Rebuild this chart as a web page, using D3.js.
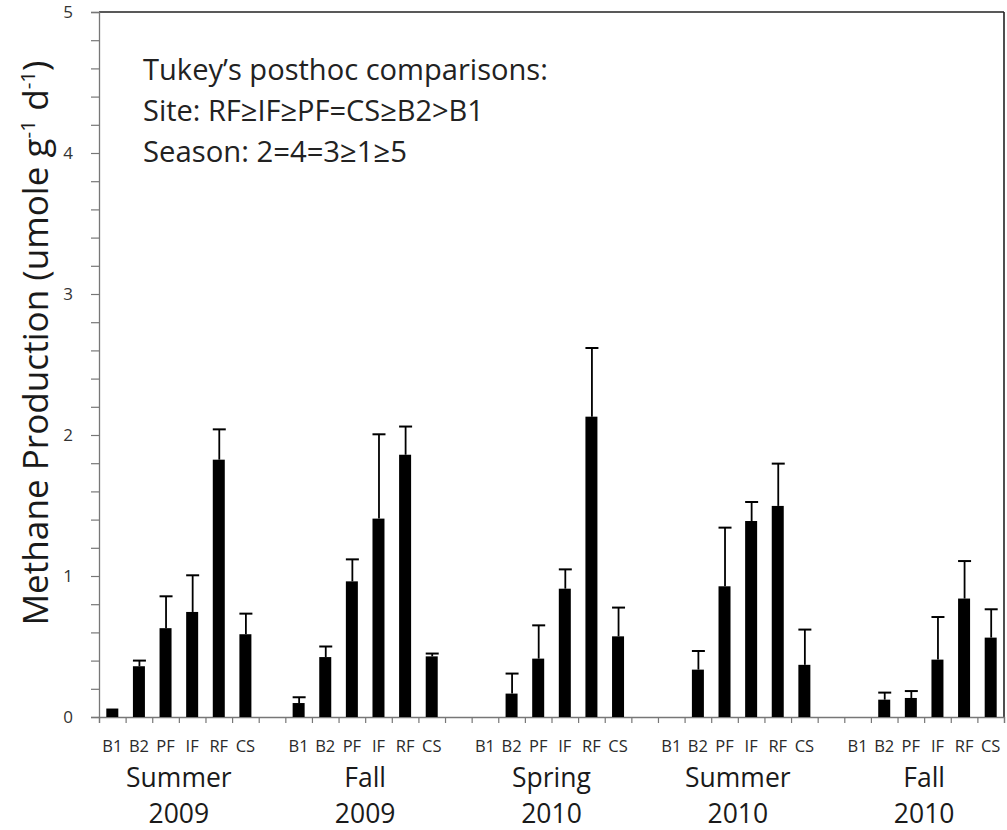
<!DOCTYPE html>
<html>
<head>
<meta charset="utf-8">
<script src="https://cdn.jsdelivr.net/npm/d3@7"></script>
<style>
  html, body { margin: 0; padding: 0; background: #fff; }
  svg { display: block; }
  text { font-family: "Open Sans", "Noto Sans", sans-serif; fill: #222; }
</style>
</head>
<body>
<svg id="chart" width="1007" height="830"></svg>
<script>
// ---------------- data ----------------
const sites = ["B1", "B2", "PF", "IF", "RF", "CS"];
const seasonNames = ["Summer", "Fall", "Spring", "Summer", "Fall"];
const seasonYears = ["2009", "2009", "2010", "2010", "2010"];

// mean methane production (umole g-1 d-1), per site B1..CS (null = no bar)
const summer2009 = [0.06, 0.36, 0.63, 0.745, 1.825, 0.587];
const fall2009   = [0.099, 0.425, 0.962, 1.407, 1.86, 0.43];
const spring2010 = [null, 0.166, 0.414, 0.91, 2.13, 0.572];
const summer2010 = [null, 0.336, 0.927, 1.39, 1.497, 0.37];
const fall2010   = [null, 0.123, 0.135, 0.407, 0.84, 0.563];

// top of the error bar (mean + error)
const summer2009Upper = [0.06, 0.40, 0.856, 1.005, 2.04, 0.733];
const fall2009Upper   = [0.14, 0.50, 1.118, 2.005, 2.06, 0.45];
const spring2010Upper = [null, 0.308, 0.65, 1.047, 2.617, 0.776];
const summer2010Upper = [null, 0.468, 1.343, 1.525, 1.797, 0.62];
const fall2010Upper   = [null, 0.173, 0.184, 0.709, 1.106, 0.764];

const yTicks = [0, 0.2, 0.4, 0.6, 0.8, 1, 1.2, 1.4, 1.6, 1.8, 2, 2.2, 2.4, 2.6, 2.8, 3, 3.2, 3.4, 3.6, 3.8, 4, 4.2, 4.4, 4.6, 4.8, 5];
const yLabelTicks = [0, 1, 2, 3, 4, 5];

const annotation = [
  "Tukey\u2019s posthoc comparisons:",
  "Site: RF\u2265IF\u2265PF=CS\u2265B2>B1",
  "Season: 2=4=3\u22651\u22655"
];

const means = [summer2009, fall2009, spring2010, summer2010, fall2010];
const uppers = [summer2009Upper, fall2009Upper, spring2010Upper, summer2010Upper, fall2010Upper];

// ---------------- layout ----------------
const svg = d3.select("#chart");
const mLeft = 99, mRight = 1004, mTop = 12, mBottom = 717;

// slots: each season has 6 sites, seasons separated by an empty slot
const slots = [];
const records = [];
seasonNames.forEach((s, gi) => {
  sites.forEach((site, si) => {
    const id = "g" + gi + "_" + site;
    slots.push(id);
    records.push({ id, gi, site, value: means[gi][si], upper: uppers[gi][si] });
  });
  if (gi < seasonNames.length - 1) slots.push("gap" + gi);
});

const x = d3.scaleBand().domain(slots).range([mLeft, mRight]).paddingInner(0).paddingOuter(0);
const xIdx = d3.scaleLinear().domain([0, slots.length]).range([mLeft, mRight]);
const y = d3.scaleLinear().domain([0, 5]).range([mBottom, mTop]);

const barW = 12;

// ---------------- frame (top and right) ----------------
svg.append("line").attr("x1", mLeft).attr("x2", mRight).attr("y1", mTop).attr("y2", mTop)
  .attr("stroke", "#222").attr("stroke-width", 1.6);
svg.append("line").attr("x1", mRight).attr("x2", mRight).attr("y1", mTop).attr("y2", mBottom)
  .attr("stroke", "#222").attr("stroke-width", 1.6);

// ---------------- y axis ----------------
const yAxis = d3.axisLeft(y).tickValues(yTicks).tickSize(8).tickFormat("");
const gy = svg.append("g").attr("transform", `translate(${mLeft},0)`).call(yAxis);
gy.select(".domain").attr("stroke", "#777").attr("stroke-width", 1.3);
gy.selectAll(".tick line").attr("stroke", "#777").attr("stroke-width", 1.2);

const yLab = d3.axisLeft(y).tickValues(yLabelTicks).tickSize(0).tickPadding(26).tickFormat(d3.format("d"));
const gy2 = svg.append("g").attr("transform", `translate(${mLeft},0)`).call(yLab);
gy2.select(".domain").remove();
gy2.attr("font-size", null).attr("font-family", null);
gy2.selectAll(".tick text").style("font-family", "'Open Sans', sans-serif")
  .style("font-size", "17px").style("fill", "#333");

// ---------------- x axis ----------------
const xAxis = d3.axisBottom(xIdx).tickValues(d3.range(0, slots.length + 1)).tickSize(6).tickFormat("");
const gx = svg.append("g").attr("transform", `translate(0,${mBottom})`).call(xAxis);
gx.select(".domain").attr("stroke", "#777").attr("stroke-width", 1.3);
gx.selectAll(".tick line").attr("stroke", "#777").attr("stroke-width", 1.2);

// category labels
const xCat = d3.axisBottom(x).tickValues(records.map(r => r.id)).tickSize(0).tickPadding(0)
  .tickFormat(id => id.split("_")[1]);
const gx2 = svg.append("g").attr("transform", `translate(0,${mBottom})`).call(xCat);
gx2.select(".domain").remove();
gx2.attr("font-size", null).attr("font-family", null);
gx2.selectAll(".tick text").attr("dy", null).attr("y", 35)
  .style("font-family", "'Open Sans', sans-serif").style("font-size", "16.5px").style("fill", "#2a2a2a");

// season / year labels
seasonNames.forEach((s, gi) => {
  const first = x("g" + gi + "_B1"), last = x("g" + gi + "_CS") + x.bandwidth();
  const cx = (first + last) / 2;
  svg.append("text").attr("x", cx).attr("y", 787).attr("text-anchor", "middle")
    .style("font-size", "26.5px").style("fill", "#1a1a1a").text(s);
  svg.append("text").attr("x", cx).attr("y", 823).attr("text-anchor", "middle")
    .style("font-size", "26.5px").style("fill", "#1a1a1a").text(seasonYears[gi]);
});

// ---------------- bars ----------------
const drawn = records.filter(r => r.value !== null);
svg.append("g").selectAll("rect").data(drawn).join("rect")
  .attr("x", d => x(d.id) + x.bandwidth() / 2 - barW / 2)
  .attr("width", barW)
  .attr("y", d => y(d.value))
  .attr("height", d => y(0) - y(d.value))
  .attr("fill", "#000");

// error bars (upper only)
const eb = svg.append("g").selectAll("g").data(drawn.filter(d => d.upper > d.value)).join("g");
eb.append("line")
  .attr("x1", d => x(d.id) + x.bandwidth() / 2 + 0.5)
  .attr("x2", d => x(d.id) + x.bandwidth() / 2 + 0.5)
  .attr("y1", d => y(d.value)).attr("y2", d => y(d.upper))
  .attr("stroke", "#000").attr("stroke-width", 1.8);
eb.append("line")
  .attr("x1", d => x(d.id) + x.bandwidth() / 2 - 6)
  .attr("x2", d => x(d.id) + x.bandwidth() / 2 + 7)
  .attr("y1", d => y(d.upper)).attr("y2", d => y(d.upper))
  .attr("stroke", "#000").attr("stroke-width", 2);

// ---------------- annotation ----------------
function fitWidth(sel, target) {
  const w = sel.node().getComputedTextLength();
  const fs = parseFloat(sel.style("font-size"));
  sel.style("font-size", (fs * target / w).toFixed(2) + "px");
}
const annBase = [80, 121, 162];
const annWidth = [405, 341, 264];
annotation.forEach((t, i) => {
  const tx = svg.append("text").attr("x", 143).attr("y", annBase[i])
    .style("font-size", "26px").style("fill", "#222").text(t);
  fitWidth(tx, annWidth[i]);
});

// ---------------- y axis title ----------------
const yt = svg.append("text")
  .attr("transform", "translate(48,343) rotate(-90)")
  .attr("text-anchor", "middle")
  .style("font-size", "34px").style("fill", "#1a1a1a");
yt.append("tspan").text("Methane Production (umole g");
yt.append("tspan").attr("dy", -13).style("font-size", "20px").text("-1");
yt.append("tspan").attr("dy", 13).text(" d");
yt.append("tspan").attr("dy", -13).style("font-size", "20px").text("-1");
yt.append("tspan").attr("dy", 13).text(")");
{
  const w = yt.node().getComputedTextLength();
  const k = 565 / w;
  yt.style("font-size", (34 * k).toFixed(2) + "px");
  yt.selectAll("tspan").each(function () {
    const t = d3.select(this);
    if (t.text() === "-1") t.style("font-size", (20 * k).toFixed(2) + "px");
    const dy = t.attr("dy");
    if (dy) t.attr("dy", (parseFloat(dy) * k).toFixed(2));
  });
}
</script>
</body>
</html>
